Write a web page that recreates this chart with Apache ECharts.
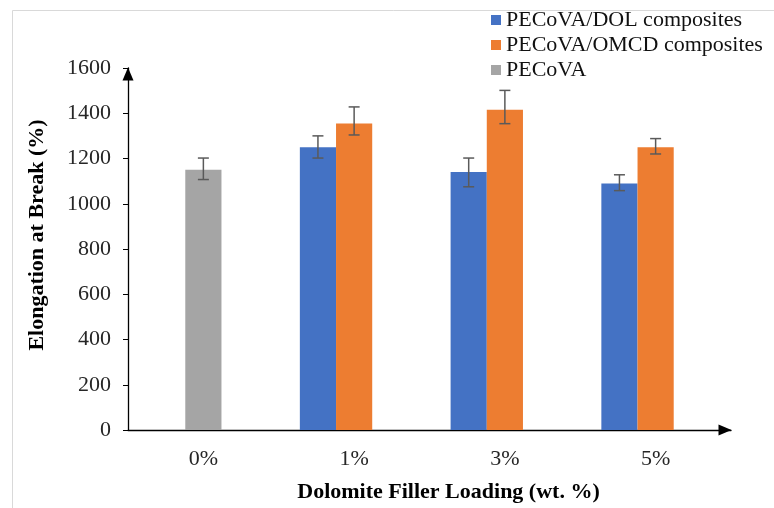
<!DOCTYPE html>
<html>
<head>
<meta charset="utf-8">
<script src="https://cdn.jsdelivr.net/npm/echarts@6/dist/echarts.min.js"></script>
<style>html,body{margin:0;padding:0;background:#fff;}#c{width:774px;height:508px;}</style>
</head>
<body>
<div id="c"></div>
<script>
var categories = ['0%', '1%', '3%', '5%'];
var dolValues = ['-', 1250, 1140, 1090];
var dolErrLow = ['-', 1202, 1075, 1058];
var dolErrHigh = ['-', 1300, 1202, 1128];
var omcdValues = ['-', 1355, 1415, 1250];
var omcdErrLow = ['-', 1304, 1354, 1220];
var omcdErrHigh = ['-', 1428, 1501, 1288];
var pecovaValues = [1150, '-', '-', '-'];
var pecovaErrLow = [1107, '-', '-', '-'];
var pecovaErrHigh = [1202, '-', '-', '-'];
var yTicks = [0, 200, 400, 600, 800, 1000, 1200, 1400, 1600];

var FONT = '"Liberation Serif", "Times New Roman", serif';
var BAR_FRAC = 0.24;

function errData(low, high, slot) {
  var out = [];
  for (var i = 0; i < low.length; i++) {
    if (low[i] !== '-') out.push([i, low[i], high[i], slot]);
  }
  return out;
}
var errItems = [].concat(
  errData(dolErrLow, dolErrHigh, -1),
  errData(omcdErrLow, omcdErrHigh, 0),
  errData(pecovaErrLow, pecovaErrHigh, 0)
);

var chart = echarts.init(document.getElementById('c'));
chart.setOption({
  animation: false,
  backgroundColor: '#fff',
  graphic: [{
    type: 'rect', silent: true,
    shape: { x: 12.5, y: 10.5, width: 900, height: 700 },
    style: { fill: 'none', stroke: '#d9d9d9', lineWidth: 1 }
  }],
  legend: {
    data: ['PECoVA/DOL composites', 'PECoVA/OMCD composites', 'PECoVA'],
    orient: 'vertical',
    left: 491, top: 8, padding: 0,
    itemWidth: 10, itemHeight: 10, itemGap: 1,
    icon: 'rect',
    textStyle: { fontFamily: FONT, fontSize: 22, color: '#111', lineHeight: 24 }
  },
  grid: { left: 128, right: 43, top: 68, bottom: 74 },
  xAxis: {
    type: 'category',
    data: categories,
    name: 'Dolomite Filler Loading (wt. %)',
    nameLocation: 'middle',
    nameGap: 51,
    nameTextStyle: { fontFamily: FONT, fontSize: 22, fontWeight: 'bold', color: '#000', padding: [0, 0, 0, 38] },
    axisLine: { lineStyle: { color: '#000', width: 1.3 }, symbol: ['none', 'triangle'], symbolSize: [11, 13], symbolOffset: [0, -6] },
    axisTick: { alignWithLabel: true, length: 4, lineStyle: { color: '#000' } },
    axisLabel: { fontFamily: FONT, fontSize: 22, color: '#262626', margin: 18 },
    splitLine: { show: false }
  },
  yAxis: {
    type: 'value',
    min: 0, max: 1600, interval: 200,
    name: 'Elongation at Break (%)',
    nameLocation: 'middle',
    nameGap: 80,
    nameTextStyle: { fontFamily: FONT, fontSize: 22, fontWeight: 'bold', color: '#000', padding: [0, 0, 0, 28] },
    axisLine: { show: true, lineStyle: { color: '#000', width: 1.3 }, symbol: ['none', 'triangle'], symbolSize: [11, 13], symbolOffset: [0, -6] },
    axisTick: { show: true, length: 5, lineStyle: { color: '#000' } },
    axisLabel: { fontFamily: FONT, fontSize: 22, color: '#262626', margin: 17,
      formatter: function (v) { return yTicks.indexOf(v) >= 0 ? String(v) : ''; } },
    splitLine: { show: false }
  },
  series: [
    { name: 'PECoVA/DOL composites', type: 'bar', data: dolValues, barWidth: (BAR_FRAC * 100) + '%', barGap: '0%',
      itemStyle: { color: '#4472C4' } },
    { name: 'PECoVA/OMCD composites', type: 'bar', stack: 'mid', data: omcdValues, barWidth: (BAR_FRAC * 100) + '%', barGap: '0%',
      itemStyle: { color: '#ED7D31' } },
    { name: 'PECoVA', type: 'bar', stack: 'mid', data: pecovaValues, barWidth: (BAR_FRAC * 100) + '%', barGap: '0%',
      itemStyle: { color: '#A5A5A5' } },
    { name: 'empty slot', type: 'bar', data: ['-', '-', '-', '-'], barWidth: (BAR_FRAC * 100) + '%', barGap: '0%' },
    { name: 'error', type: 'custom', data: errItems, z: 10,
      renderItem: function (params, api) {
        var idx = api.value(0);
        var base = api.coord([idx, 0]);
        var bw = api.size([1, 0])[0];
        var x = base[0] + api.value(3) * bw * BAR_FRAC;
        var yl = api.coord([idx, api.value(1)])[1];
        var yh = api.coord([idx, api.value(2)])[1];
        var hw = 5.5;
        var st = { stroke: '#5a5a5a', lineWidth: 1.5 };
        return { type: 'group', children: [
          { type: 'line', shape: { x1: x, y1: yl, x2: x, y2: yh }, style: st },
          { type: 'line', shape: { x1: x - hw, y1: yl, x2: x + hw, y2: yl }, style: st },
          { type: 'line', shape: { x1: x - hw, y1: yh, x2: x + hw, y2: yh }, style: st }
        ] };
      }
    }
  ]
});
</script>
</body>
</html>
